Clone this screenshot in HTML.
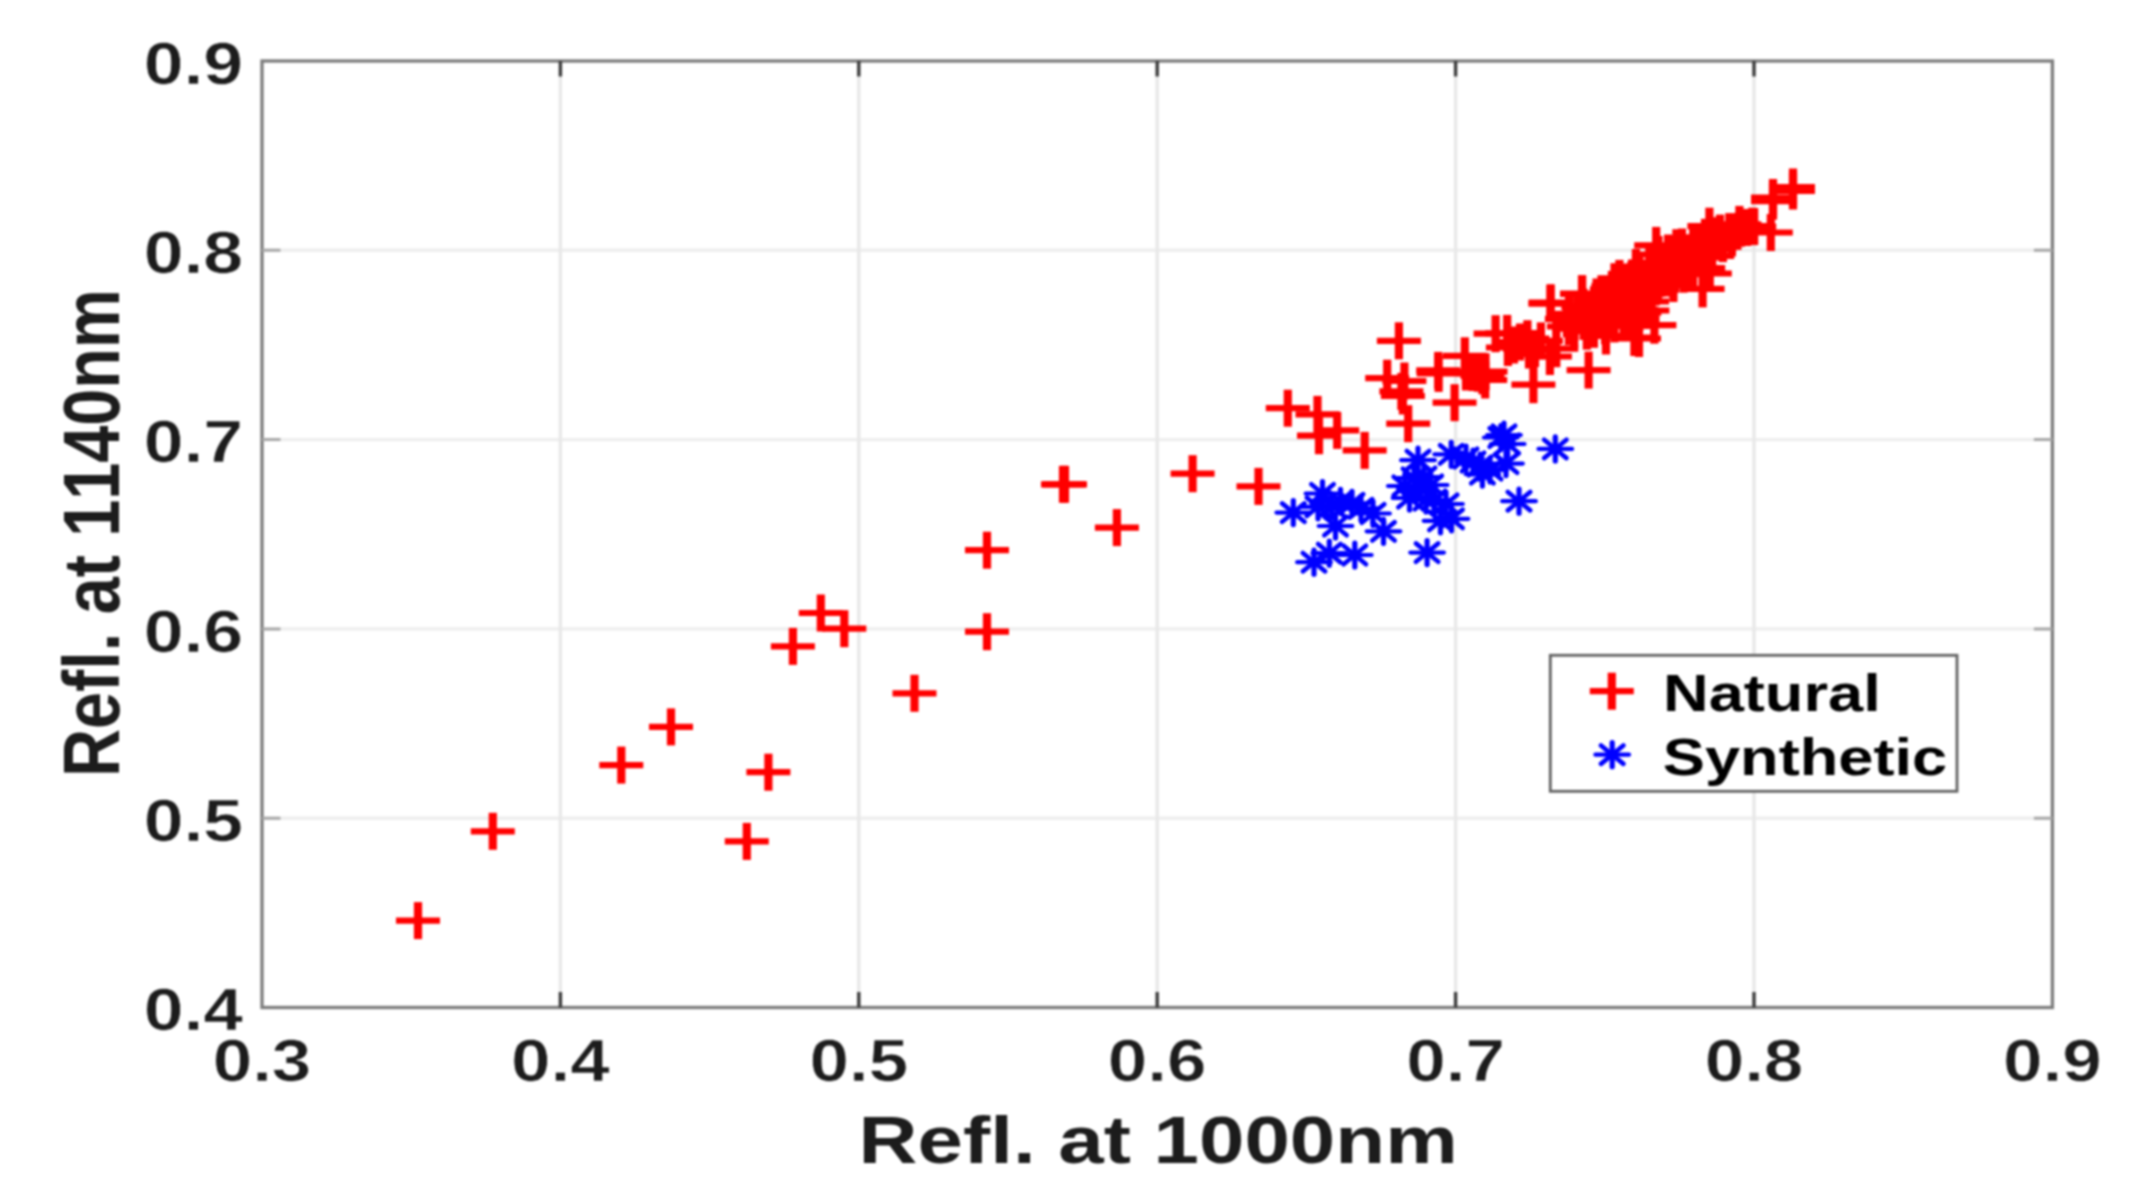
<!DOCTYPE html>
<html lang="en">
<head>
<meta charset="utf-8">
<title>Refl. at 1000nm vs Refl. at 1140nm</title>
<style>
html,body{margin:0;padding:0;background:#fff;}
body{width:2132px;height:1201px;overflow:hidden;}
svg{display:block;filter:blur(0.8px);}
text{font-family:"Liberation Sans",sans-serif;font-weight:bold;font-kerning:none;}
</style>
</head>
<body>
<svg width="2132" height="1201" viewBox="0 0 2132 1201">
<rect width="2132" height="1201" fill="#ffffff"/>

<g stroke="#eeeeee" stroke-width="3.4" fill="none">
<path d="M262.0 250.3H2052.4"/>
<path d="M262.0 439.6H2052.4"/>
<path d="M262.0 628.9H2052.4"/>
<path d="M262.0 818.2H2052.4"/>
</g>
<g stroke="#e8e8e8" stroke-width="3.4" fill="none">
<path d="M560.4 61.0V1007.5"/>
<path d="M858.8 61.0V1007.5"/>
<path d="M1157.2 61.0V1007.5"/>
<path d="M1455.6 61.0V1007.5"/>
<path d="M1754.0 61.0V1007.5"/>
</g>
<g stroke="#ff0000" fill="none">
<path d="M396.0 920.6h44" stroke-width="6.2"/><path d="M418.0 902.1v37" stroke-width="8.2"/>
<path d="M470.8 831.3h44" stroke-width="6.2"/><path d="M492.8 812.8v37" stroke-width="8.2"/>
<path d="M599.3 765.1h44" stroke-width="6.2"/><path d="M621.3 746.6v37" stroke-width="8.2"/>
<path d="M649.0 726.9h44" stroke-width="6.2"/><path d="M671.0 708.4v37" stroke-width="8.2"/>
<path d="M746.4 772.2h44" stroke-width="6.2"/><path d="M768.4 753.7v37" stroke-width="8.2"/>
<path d="M724.8 841.4h44" stroke-width="6.2"/><path d="M746.8 822.9v37" stroke-width="8.2"/>
<path d="M770.9 646.4h44" stroke-width="6.2"/><path d="M792.9 627.9v37" stroke-width="8.2"/>
<path d="M798.8 613.0h44" stroke-width="6.2"/><path d="M820.8 594.5v37" stroke-width="8.2"/>
<path d="M822.3 628.7h44" stroke-width="6.2"/><path d="M844.3 610.2v37" stroke-width="8.2"/>
<path d="M892.5 693.3h44" stroke-width="6.2"/><path d="M914.5 674.8v37" stroke-width="8.2"/>
<path d="M965.0 631.7h44" stroke-width="6.2"/><path d="M987.0 613.2v37" stroke-width="8.2"/>
<path d="M965.0 550.2h44" stroke-width="6.2"/><path d="M987.0 531.7v37" stroke-width="8.2"/>
<path d="M1041.0 484.3h44" stroke-width="6.2"/><path d="M1063.0 465.8v37" stroke-width="8.2"/>
<path d="M1043.0 484.3h44" stroke-width="6.2"/><path d="M1065.0 465.8v37" stroke-width="8.2"/>
<path d="M1094.9 527.6h44" stroke-width="6.2"/><path d="M1116.9 509.1v37" stroke-width="8.2"/>
<path d="M1170.6 473.7h44" stroke-width="6.2"/><path d="M1192.6 455.2v37" stroke-width="8.2"/>
<path d="M1236.5 486.4h44" stroke-width="6.2"/><path d="M1258.5 467.9v37" stroke-width="8.2"/>
<path d="M1265.8 408.2h44" stroke-width="6.2"/><path d="M1287.8 389.7v37" stroke-width="8.2"/>
<path d="M1295.5 414.4h44" stroke-width="6.2"/><path d="M1317.5 395.9v37" stroke-width="8.2"/>
<path d="M1315.2 430.4h44" stroke-width="6.2"/><path d="M1337.2 411.9v37" stroke-width="8.2"/>
<path d="M1297.0 435.7h44" stroke-width="6.2"/><path d="M1319.0 417.2v37" stroke-width="8.2"/>
<path d="M1342.7 450.4h44" stroke-width="6.2"/><path d="M1364.7 431.9v37" stroke-width="8.2"/>
<path d="M1376.9 340.8h44" stroke-width="6.2"/><path d="M1398.9 322.3v37" stroke-width="8.2"/>
<path d="M1386.2 423.7h44" stroke-width="6.2"/><path d="M1408.2 405.2v37" stroke-width="8.2"/>
<path d="M1432.6 402.7h44" stroke-width="6.2"/><path d="M1454.6 384.2v37" stroke-width="8.2"/>
<path d="M1365.2 378.2h44" stroke-width="6.2"/><path d="M1387.2 359.7v37" stroke-width="8.2"/>
<path d="M1382.4 381.0h44" stroke-width="6.2"/><path d="M1404.4 362.5v37" stroke-width="8.2"/>
<path d="M1379.4 391.4h44" stroke-width="6.2"/><path d="M1401.4 372.9v37" stroke-width="8.2"/>
<path d="M1380.9 396.0h44" stroke-width="6.2"/><path d="M1402.9 377.5v37" stroke-width="8.2"/>
<path d="M1511.4 384.7h44" stroke-width="6.2"/><path d="M1533.4 366.2v37" stroke-width="8.2"/>
<path d="M1566.6 370.1h44" stroke-width="6.2"/><path d="M1588.6 351.6v37" stroke-width="8.2"/>
<path d="M1528.6 302.7h44" stroke-width="6.2"/><path d="M1550.6 284.2v37" stroke-width="8.2"/>
<path d="M1560.1 294.0h44" stroke-width="6.2"/><path d="M1582.1 275.5v37" stroke-width="8.2"/>
<path d="M1442.8 355.8h44" stroke-width="6.2"/><path d="M1464.8 337.3v37" stroke-width="8.2"/>
<path d="M1416.2 370.4h44" stroke-width="6.2"/><path d="M1438.2 351.9v37" stroke-width="8.2"/>
<path d="M1416.6 373.4h44" stroke-width="6.2"/><path d="M1438.6 354.9v37" stroke-width="8.2"/>
<path d="M1444.0 372.0h44" stroke-width="6.2"/><path d="M1466.0 353.5v37" stroke-width="8.2"/>
<path d="M1450.7 372.5h44" stroke-width="6.2"/><path d="M1472.7 354.0v37" stroke-width="8.2"/>
<path d="M1463.5 371.7h44" stroke-width="6.2"/><path d="M1485.5 353.2v37" stroke-width="8.2"/>
<path d="M1463.2 380.0h44" stroke-width="6.2"/><path d="M1485.2 361.5v37" stroke-width="8.2"/>
<path d="M1460.5 375.8h44" stroke-width="6.2"/><path d="M1482.5 357.3v37" stroke-width="8.2"/>
<path d="M1456.0 373.2h44" stroke-width="6.2"/><path d="M1478.0 354.7v37" stroke-width="8.2"/>
<path d="M1473.6 333.7h44" stroke-width="6.2"/><path d="M1495.6 315.2v37" stroke-width="8.2"/>
<path d="M1485.2 333.4h44" stroke-width="6.2"/><path d="M1507.2 314.9v37" stroke-width="8.2"/>
<path d="M1505.4 338.7h44" stroke-width="6.2"/><path d="M1527.4 320.2v37" stroke-width="8.2"/>
<path d="M1518.9 340.9h44" stroke-width="6.2"/><path d="M1540.9 322.4v37" stroke-width="8.2"/>
<path d="M1485.9 347.5h44" stroke-width="6.2"/><path d="M1507.9 329.0v37" stroke-width="8.2"/>
<path d="M1527.9 356.5h44" stroke-width="6.2"/><path d="M1549.9 338.0v37" stroke-width="8.2"/>
<path d="M1534.3 348.7h44" stroke-width="6.2"/><path d="M1556.3 330.2v37" stroke-width="8.2"/>
<path d="M1498.0 342.0h44" stroke-width="6.2"/><path d="M1520.0 323.5v37" stroke-width="8.2"/>
<path d="M1513.0 348.5h44" stroke-width="6.2"/><path d="M1535.0 330.0v37" stroke-width="8.2"/>
<path d="M1507.0 350.0h44" stroke-width="6.2"/><path d="M1529.0 331.5v37" stroke-width="8.2"/>
<path d="M1492.0 345.0h44" stroke-width="6.2"/><path d="M1514.0 326.5v37" stroke-width="8.2"/>
<path d="M1528.5 303.7h44" stroke-width="6.2"/><path d="M1550.5 285.2v37" stroke-width="8.2"/>
<path d="M1560.0 293.7h44" stroke-width="6.2"/><path d="M1582.0 275.2v37" stroke-width="8.2"/>
<path d="M1592.5 281.7h44" stroke-width="6.2"/><path d="M1614.5 263.2v37" stroke-width="8.2"/>
<path d="M1597.4 278.4h44" stroke-width="6.2"/><path d="M1619.4 259.9v37" stroke-width="8.2"/>
<path d="M1634.2 245.4h44" stroke-width="6.2"/><path d="M1656.2 226.9v37" stroke-width="8.2"/>
<path d="M1613.9 267.5h44" stroke-width="6.2"/><path d="M1635.9 249.0v37" stroke-width="8.2"/>
<path d="M1654.4 247.7h44" stroke-width="6.2"/><path d="M1676.4 229.2v37" stroke-width="8.2"/>
<path d="M1687.4 226.2h44" stroke-width="6.2"/><path d="M1709.4 207.7v37" stroke-width="8.2"/>
<path d="M1717.4 224.4h44" stroke-width="6.2"/><path d="M1739.4 205.9v37" stroke-width="8.2"/>
<path d="M1748.8 232.5h44" stroke-width="6.2"/><path d="M1770.8 214.0v37" stroke-width="8.2"/>
<path d="M1680.6 288.9h44" stroke-width="6.2"/><path d="M1702.6 270.4v37" stroke-width="8.2"/>
<path d="M1687.8 273.5h44" stroke-width="6.2"/><path d="M1709.8 255.0v37" stroke-width="8.2"/>
<path d="M1651.4 283.5h44" stroke-width="6.2"/><path d="M1673.4 265.0v37" stroke-width="8.2"/>
<path d="M1632.4 325.2h44" stroke-width="6.2"/><path d="M1654.4 306.7v37" stroke-width="8.2"/>
<path d="M1612.4 337.5h44" stroke-width="6.2"/><path d="M1634.4 319.0v37" stroke-width="8.2"/>
<path d="M1617.0 338.5h44" stroke-width="6.2"/><path d="M1639.0 320.0v37" stroke-width="8.2"/>
<path d="M1584.0 336.0h44" stroke-width="6.2"/><path d="M1606.0 317.5v37" stroke-width="8.2"/>
<path d="M1547.0 314.0h44" stroke-width="6.2"/><path d="M1569.0 295.5v37" stroke-width="8.2"/>
<path d="M1771.0 187.0h44" stroke-width="6.2"/><path d="M1793.0 168.5v37" stroke-width="8.2"/>
<path d="M1771.0 191.0h44" stroke-width="6.2"/><path d="M1793.0 172.5v37" stroke-width="8.2"/>
<path d="M1751.0 197.5h44" stroke-width="6.2"/><path d="M1773.0 179.0v37" stroke-width="8.2"/>
<path d="M1751.0 201.2h44" stroke-width="6.2"/><path d="M1773.0 182.7v37" stroke-width="8.2"/>
<path d="M1730.4 226.2h44" stroke-width="6.2"/><path d="M1752.4 207.7v37" stroke-width="8.2"/>
<path d="M1707.3 231.6h44" stroke-width="6.2"/><path d="M1729.3 213.1v37" stroke-width="8.2"/>
<path d="M1544.9 318.8h44" stroke-width="6.2"/><path d="M1566.9 300.3v37" stroke-width="8.2"/>
<path d="M1546.9 326.5h44" stroke-width="6.2"/><path d="M1568.9 308.0v37" stroke-width="8.2"/>
<path d="M1555.2 313.9h44" stroke-width="6.2"/><path d="M1577.2 295.4v37" stroke-width="8.2"/>
<path d="M1552.3 321.7h44" stroke-width="6.2"/><path d="M1574.3 303.2v37" stroke-width="8.2"/>
<path d="M1552.2 328.7h44" stroke-width="6.2"/><path d="M1574.2 310.2v37" stroke-width="8.2"/>
<path d="M1561.4 307.1h44" stroke-width="6.2"/><path d="M1583.4 288.6v37" stroke-width="8.2"/>
<path d="M1563.5 316.9h44" stroke-width="6.2"/><path d="M1585.5 298.4v37" stroke-width="8.2"/>
<path d="M1561.7 321.4h44" stroke-width="6.2"/><path d="M1583.7 302.9v37" stroke-width="8.2"/>
<path d="M1564.8 331.2h44" stroke-width="6.2"/><path d="M1586.8 312.7v37" stroke-width="8.2"/>
<path d="M1573.5 301.5h44" stroke-width="6.2"/><path d="M1595.5 283.0v37" stroke-width="8.2"/>
<path d="M1575.9 306.7h44" stroke-width="6.2"/><path d="M1597.9 288.2v37" stroke-width="8.2"/>
<path d="M1575.2 314.2h44" stroke-width="6.2"/><path d="M1597.2 295.7v37" stroke-width="8.2"/>
<path d="M1570.9 320.0h44" stroke-width="6.2"/><path d="M1592.9 301.5v37" stroke-width="8.2"/>
<path d="M1571.9 329.3h44" stroke-width="6.2"/><path d="M1593.9 310.8v37" stroke-width="8.2"/>
<path d="M1580.1 296.2h44" stroke-width="6.2"/><path d="M1602.1 277.7v37" stroke-width="8.2"/>
<path d="M1582.8 302.9h44" stroke-width="6.2"/><path d="M1604.8 284.4v37" stroke-width="8.2"/>
<path d="M1582.3 309.2h44" stroke-width="6.2"/><path d="M1604.3 290.7v37" stroke-width="8.2"/>
<path d="M1579.4 317.3h44" stroke-width="6.2"/><path d="M1601.4 298.8v37" stroke-width="8.2"/>
<path d="M1583.1 325.8h44" stroke-width="6.2"/><path d="M1605.1 307.3v37" stroke-width="8.2"/>
<path d="M1589.9 289.4h44" stroke-width="6.2"/><path d="M1611.9 270.9v37" stroke-width="8.2"/>
<path d="M1590.7 295.4h44" stroke-width="6.2"/><path d="M1612.7 276.9v37" stroke-width="8.2"/>
<path d="M1592.8 304.1h44" stroke-width="6.2"/><path d="M1614.8 285.6v37" stroke-width="8.2"/>
<path d="M1589.5 310.8h44" stroke-width="6.2"/><path d="M1611.5 292.3v37" stroke-width="8.2"/>
<path d="M1591.2 319.1h44" stroke-width="6.2"/><path d="M1613.2 300.6v37" stroke-width="8.2"/>
<path d="M1592.4 323.9h44" stroke-width="6.2"/><path d="M1614.4 305.4v37" stroke-width="8.2"/>
<path d="M1602.9 282.0h44" stroke-width="6.2"/><path d="M1624.9 263.5v37" stroke-width="8.2"/>
<path d="M1599.5 292.5h44" stroke-width="6.2"/><path d="M1621.5 274.0v37" stroke-width="8.2"/>
<path d="M1597.9 299.4h44" stroke-width="6.2"/><path d="M1619.9 280.9v37" stroke-width="8.2"/>
<path d="M1597.2 308.1h44" stroke-width="6.2"/><path d="M1619.2 289.6v37" stroke-width="8.2"/>
<path d="M1601.6 315.6h44" stroke-width="6.2"/><path d="M1623.6 297.1v37" stroke-width="8.2"/>
<path d="M1602.3 322.6h44" stroke-width="6.2"/><path d="M1624.3 304.1v37" stroke-width="8.2"/>
<path d="M1610.2 277.9h44" stroke-width="6.2"/><path d="M1632.2 259.4v37" stroke-width="8.2"/>
<path d="M1609.5 284.9h44" stroke-width="6.2"/><path d="M1631.5 266.4v37" stroke-width="8.2"/>
<path d="M1611.0 294.3h44" stroke-width="6.2"/><path d="M1633.0 275.8v37" stroke-width="8.2"/>
<path d="M1608.8 300.7h44" stroke-width="6.2"/><path d="M1630.8 282.2v37" stroke-width="8.2"/>
<path d="M1606.4 308.4h44" stroke-width="6.2"/><path d="M1628.4 289.9v37" stroke-width="8.2"/>
<path d="M1609.9 317.1h44" stroke-width="6.2"/><path d="M1631.9 298.6v37" stroke-width="8.2"/>
<path d="M1610.9 321.8h44" stroke-width="6.2"/><path d="M1632.9 303.3v37" stroke-width="8.2"/>
<path d="M1617.3 272.6h44" stroke-width="6.2"/><path d="M1639.3 254.1v37" stroke-width="8.2"/>
<path d="M1615.1 279.6h44" stroke-width="6.2"/><path d="M1637.1 261.1v37" stroke-width="8.2"/>
<path d="M1616.0 286.1h44" stroke-width="6.2"/><path d="M1638.0 267.6v37" stroke-width="8.2"/>
<path d="M1615.4 296.5h44" stroke-width="6.2"/><path d="M1637.4 278.0v37" stroke-width="8.2"/>
<path d="M1615.8 302.3h44" stroke-width="6.2"/><path d="M1637.8 283.8v37" stroke-width="8.2"/>
<path d="M1617.3 312.6h44" stroke-width="6.2"/><path d="M1639.3 294.1v37" stroke-width="8.2"/>
<path d="M1615.5 318.8h44" stroke-width="6.2"/><path d="M1637.5 300.3v37" stroke-width="8.2"/>
<path d="M1627.3 264.5h44" stroke-width="6.2"/><path d="M1649.3 246.0v37" stroke-width="8.2"/>
<path d="M1628.9 272.3h44" stroke-width="6.2"/><path d="M1650.9 253.8v37" stroke-width="8.2"/>
<path d="M1625.7 278.5h44" stroke-width="6.2"/><path d="M1647.7 260.0v37" stroke-width="8.2"/>
<path d="M1626.2 288.3h44" stroke-width="6.2"/><path d="M1648.2 269.8v37" stroke-width="8.2"/>
<path d="M1629.7 293.3h44" stroke-width="6.2"/><path d="M1651.7 274.8v37" stroke-width="8.2"/>
<path d="M1625.1 301.5h44" stroke-width="6.2"/><path d="M1647.1 283.0v37" stroke-width="8.2"/>
<path d="M1625.4 310.5h44" stroke-width="6.2"/><path d="M1647.4 292.0v37" stroke-width="8.2"/>
<path d="M1636.5 254.5h44" stroke-width="6.2"/><path d="M1658.5 236.0v37" stroke-width="8.2"/>
<path d="M1633.0 262.5h44" stroke-width="6.2"/><path d="M1655.0 244.0v37" stroke-width="8.2"/>
<path d="M1635.2 270.4h44" stroke-width="6.2"/><path d="M1657.2 251.9v37" stroke-width="8.2"/>
<path d="M1638.7 278.3h44" stroke-width="6.2"/><path d="M1660.7 259.8v37" stroke-width="8.2"/>
<path d="M1636.1 285.3h44" stroke-width="6.2"/><path d="M1658.1 266.8v37" stroke-width="8.2"/>
<path d="M1646.1 253.0h44" stroke-width="6.2"/><path d="M1668.1 234.5v37" stroke-width="8.2"/>
<path d="M1647.4 263.6h44" stroke-width="6.2"/><path d="M1669.4 245.1v37" stroke-width="8.2"/>
<path d="M1647.2 271.4h44" stroke-width="6.2"/><path d="M1669.2 252.9v37" stroke-width="8.2"/>
<path d="M1644.4 277.5h44" stroke-width="6.2"/><path d="M1666.4 259.0v37" stroke-width="8.2"/>
<path d="M1651.6 254.2h44" stroke-width="6.2"/><path d="M1673.6 235.7v37" stroke-width="8.2"/>
<path d="M1651.4 259.4h44" stroke-width="6.2"/><path d="M1673.4 240.9v37" stroke-width="8.2"/>
<path d="M1652.3 267.2h44" stroke-width="6.2"/><path d="M1674.3 248.7v37" stroke-width="8.2"/>
<path d="M1653.0 274.2h44" stroke-width="6.2"/><path d="M1675.0 255.7v37" stroke-width="8.2"/>
<path d="M1660.0 247.0h44" stroke-width="6.2"/><path d="M1682.0 228.5v37" stroke-width="8.2"/>
<path d="M1660.6 254.5h44" stroke-width="6.2"/><path d="M1682.6 236.0v37" stroke-width="8.2"/>
<path d="M1660.2 263.1h44" stroke-width="6.2"/><path d="M1682.2 244.6v37" stroke-width="8.2"/>
<path d="M1663.7 266.8h44" stroke-width="6.2"/><path d="M1685.7 248.3v37" stroke-width="8.2"/>
<path d="M1661.5 274.2h44" stroke-width="6.2"/><path d="M1683.5 255.7v37" stroke-width="8.2"/>
<path d="M1671.2 242.3h44" stroke-width="6.2"/><path d="M1693.2 223.8v37" stroke-width="8.2"/>
<path d="M1674.1 253.1h44" stroke-width="6.2"/><path d="M1696.1 234.6v37" stroke-width="8.2"/>
<path d="M1671.8 258.4h44" stroke-width="6.2"/><path d="M1693.8 239.9v37" stroke-width="8.2"/>
<path d="M1669.5 264.1h44" stroke-width="6.2"/><path d="M1691.5 245.6v37" stroke-width="8.2"/>
<path d="M1671.1 272.1h44" stroke-width="6.2"/><path d="M1693.1 253.6v37" stroke-width="8.2"/>
<path d="M1683.0 237.3h44" stroke-width="6.2"/><path d="M1705.0 218.8v37" stroke-width="8.2"/>
<path d="M1678.1 247.4h44" stroke-width="6.2"/><path d="M1700.1 228.9v37" stroke-width="8.2"/>
<path d="M1681.2 251.0h44" stroke-width="6.2"/><path d="M1703.2 232.5v37" stroke-width="8.2"/>
<path d="M1681.3 257.4h44" stroke-width="6.2"/><path d="M1703.3 238.9v37" stroke-width="8.2"/>
<path d="M1681.2 268.1h44" stroke-width="6.2"/><path d="M1703.2 249.6v37" stroke-width="8.2"/>
<path d="M1692.2 235.7h44" stroke-width="6.2"/><path d="M1714.2 217.2v37" stroke-width="8.2"/>
<path d="M1688.6 241.0h44" stroke-width="6.2"/><path d="M1710.6 222.5v37" stroke-width="8.2"/>
<path d="M1688.0 249.2h44" stroke-width="6.2"/><path d="M1710.0 230.7v37" stroke-width="8.2"/>
<path d="M1690.2 255.8h44" stroke-width="6.2"/><path d="M1712.2 237.3v37" stroke-width="8.2"/>
<path d="M1698.0 233.1h44" stroke-width="6.2"/><path d="M1720.0 214.6v37" stroke-width="8.2"/>
<path d="M1700.9 243.6h44" stroke-width="6.2"/><path d="M1722.9 225.1v37" stroke-width="8.2"/>
<path d="M1710.1 233.1h44" stroke-width="6.2"/><path d="M1732.1 214.6v37" stroke-width="8.2"/>
<path d="M1709.9 237.9h44" stroke-width="6.2"/><path d="M1731.9 219.4v37" stroke-width="8.2"/>
<path d="M1715.4 231.4h44" stroke-width="6.2"/><path d="M1737.4 212.9v37" stroke-width="8.2"/>
<path d="M1725.1 227.5h44" stroke-width="6.2"/><path d="M1747.1 209.0v37" stroke-width="8.2"/>
<path d="M1732.2 226.6h44" stroke-width="6.2"/><path d="M1754.2 208.1v37" stroke-width="8.2"/>
</g>
<g stroke="#0000ff" fill="none" stroke-linecap="round">
<path d="M1276.5 512.6h33.6" stroke-width="4.2"/><path d="M1293.3 500.6v24.0" stroke-width="5.2"/><path d="M1282.1 503.4l22.4 18.4M1282.1 521.8l22.4 -18.4" stroke-width="4.6"/><ellipse cx="1293.3" cy="512.6" rx="5.4" ry="4.2" fill="#0000ff" stroke="none"/>
<path d="M1305.7 493.5h33.6" stroke-width="4.2"/><path d="M1322.5 481.5v24.0" stroke-width="5.2"/><path d="M1311.3 484.3l22.4 18.4M1311.3 502.7l22.4 -18.4" stroke-width="4.6"/><ellipse cx="1322.5" cy="493.5" rx="5.4" ry="4.2" fill="#0000ff" stroke="none"/>
<path d="M1301.2 506.8h33.6" stroke-width="4.2"/><path d="M1318.0 494.8v24.0" stroke-width="5.2"/><path d="M1306.8 497.6l22.4 18.4M1306.8 516.0l22.4 -18.4" stroke-width="4.6"/><ellipse cx="1318.0" cy="506.8" rx="5.4" ry="4.2" fill="#0000ff" stroke="none"/>
<path d="M1315.2 506.0h33.6" stroke-width="4.2"/><path d="M1332.0 494.0v24.0" stroke-width="5.2"/><path d="M1320.8 496.8l22.4 18.4M1320.8 515.2l22.4 -18.4" stroke-width="4.6"/><ellipse cx="1332.0" cy="506.0" rx="5.4" ry="4.2" fill="#0000ff" stroke="none"/>
<path d="M1323.7 501.3h33.6" stroke-width="4.2"/><path d="M1340.5 489.3v24.0" stroke-width="5.2"/><path d="M1329.3 492.1l22.4 18.4M1329.3 510.5l22.4 -18.4" stroke-width="4.6"/><ellipse cx="1340.5" cy="501.3" rx="5.4" ry="4.2" fill="#0000ff" stroke="none"/>
<path d="M1335.2 503.3h33.6" stroke-width="4.2"/><path d="M1352.0 491.3v24.0" stroke-width="5.2"/><path d="M1340.8 494.1l22.4 18.4M1340.8 512.5l22.4 -18.4" stroke-width="4.6"/><ellipse cx="1352.0" cy="503.3" rx="5.4" ry="4.2" fill="#0000ff" stroke="none"/>
<path d="M1344.2 508.3h33.6" stroke-width="4.2"/><path d="M1361.0 496.3v24.0" stroke-width="5.2"/><path d="M1349.8 499.1l22.4 18.4M1349.8 517.5l22.4 -18.4" stroke-width="4.6"/><ellipse cx="1361.0" cy="508.3" rx="5.4" ry="4.2" fill="#0000ff" stroke="none"/>
<path d="M1356.2 513.5h33.6" stroke-width="4.2"/><path d="M1373.0 501.5v24.0" stroke-width="5.2"/><path d="M1361.8 504.3l22.4 18.4M1361.8 522.7l22.4 -18.4" stroke-width="4.6"/><ellipse cx="1373.0" cy="513.5" rx="5.4" ry="4.2" fill="#0000ff" stroke="none"/>
<path d="M1318.7 526.0h33.6" stroke-width="4.2"/><path d="M1335.5 514.0v24.0" stroke-width="5.2"/><path d="M1324.3 516.8l22.4 18.4M1324.3 535.2l22.4 -18.4" stroke-width="4.6"/><ellipse cx="1335.5" cy="526.0" rx="5.4" ry="4.2" fill="#0000ff" stroke="none"/>
<path d="M1366.7 531.3h33.6" stroke-width="4.2"/><path d="M1383.5 519.3v24.0" stroke-width="5.2"/><path d="M1372.3 522.1l22.4 18.4M1372.3 540.5l22.4 -18.4" stroke-width="4.6"/><ellipse cx="1383.5" cy="531.3" rx="5.4" ry="4.2" fill="#0000ff" stroke="none"/>
<path d="M1338.0 555.0h33.6" stroke-width="4.2"/><path d="M1354.8 543.0v24.0" stroke-width="5.2"/><path d="M1343.6 545.8l22.4 18.4M1343.6 564.2l22.4 -18.4" stroke-width="4.6"/><ellipse cx="1354.8" cy="555.0" rx="5.4" ry="4.2" fill="#0000ff" stroke="none"/>
<path d="M1297.2 562.2h33.6" stroke-width="4.2"/><path d="M1314.0 550.2v24.0" stroke-width="5.2"/><path d="M1302.8 553.0l22.4 18.4M1302.8 571.4l22.4 -18.4" stroke-width="4.6"/><ellipse cx="1314.0" cy="562.2" rx="5.4" ry="4.2" fill="#0000ff" stroke="none"/>
<path d="M1312.5 553.2h33.6" stroke-width="4.2"/><path d="M1329.3 541.2v24.0" stroke-width="5.2"/><path d="M1318.1 544.0l22.4 18.4M1318.1 562.4l22.4 -18.4" stroke-width="4.6"/><ellipse cx="1329.3" cy="553.2" rx="5.4" ry="4.2" fill="#0000ff" stroke="none"/>
<path d="M1401.2 460.2h33.6" stroke-width="4.2"/><path d="M1418.0 448.2v24.0" stroke-width="5.2"/><path d="M1406.8 451.0l22.4 18.4M1406.8 469.4l22.4 -18.4" stroke-width="4.6"/><ellipse cx="1418.0" cy="460.2" rx="5.4" ry="4.2" fill="#0000ff" stroke="none"/>
<path d="M1388.0 486.0h33.6" stroke-width="4.2"/><path d="M1404.8 474.0v24.0" stroke-width="5.2"/><path d="M1393.6 476.8l22.4 18.4M1393.6 495.2l22.4 -18.4" stroke-width="4.6"/><ellipse cx="1404.8" cy="486.0" rx="5.4" ry="4.2" fill="#0000ff" stroke="none"/>
<path d="M1392.7 498.0h33.6" stroke-width="4.2"/><path d="M1409.5 486.0v24.0" stroke-width="5.2"/><path d="M1398.3 488.8l22.4 18.4M1398.3 507.2l22.4 -18.4" stroke-width="4.6"/><ellipse cx="1409.5" cy="498.0" rx="5.4" ry="4.2" fill="#0000ff" stroke="none"/>
<path d="M1413.9 485.0h33.6" stroke-width="4.2"/><path d="M1430.7 473.0v24.0" stroke-width="5.2"/><path d="M1419.5 475.8l22.4 18.4M1419.5 494.2l22.4 -18.4" stroke-width="4.6"/><ellipse cx="1430.7" cy="485.0" rx="5.4" ry="4.2" fill="#0000ff" stroke="none"/>
<path d="M1397.2 478.0h33.6" stroke-width="4.2"/><path d="M1414.0 466.0v24.0" stroke-width="5.2"/><path d="M1402.8 468.8l22.4 18.4M1402.8 487.2l22.4 -18.4" stroke-width="4.6"/><ellipse cx="1414.0" cy="478.0" rx="5.4" ry="4.2" fill="#0000ff" stroke="none"/>
<path d="M1407.2 477.0h33.6" stroke-width="4.2"/><path d="M1424.0 465.0v24.0" stroke-width="5.2"/><path d="M1412.8 467.8l22.4 18.4M1412.8 486.2l22.4 -18.4" stroke-width="4.6"/><ellipse cx="1424.0" cy="477.0" rx="5.4" ry="4.2" fill="#0000ff" stroke="none"/>
<path d="M1403.2 486.0h33.6" stroke-width="4.2"/><path d="M1420.0 474.0v24.0" stroke-width="5.2"/><path d="M1408.8 476.8l22.4 18.4M1408.8 495.2l22.4 -18.4" stroke-width="4.6"/><ellipse cx="1420.0" cy="486.0" rx="5.4" ry="4.2" fill="#0000ff" stroke="none"/>
<path d="M1417.2 500.0h33.6" stroke-width="4.2"/><path d="M1434.0 488.0v24.0" stroke-width="5.2"/><path d="M1422.8 490.8l22.4 18.4M1422.8 509.2l22.4 -18.4" stroke-width="4.6"/><ellipse cx="1434.0" cy="500.0" rx="5.4" ry="4.2" fill="#0000ff" stroke="none"/>
<path d="M1409.2 500.0h33.6" stroke-width="4.2"/><path d="M1426.0 488.0v24.0" stroke-width="5.2"/><path d="M1414.8 490.8l22.4 18.4M1414.8 509.2l22.4 -18.4" stroke-width="4.6"/><ellipse cx="1426.0" cy="500.0" rx="5.4" ry="4.2" fill="#0000ff" stroke="none"/>
<path d="M1423.7 520.8h33.6" stroke-width="4.2"/><path d="M1440.5 508.8v24.0" stroke-width="5.2"/><path d="M1429.3 511.6l22.4 18.4M1429.3 530.0l22.4 -18.4" stroke-width="4.6"/><ellipse cx="1440.5" cy="520.8" rx="5.4" ry="4.2" fill="#0000ff" stroke="none"/>
<path d="M1434.7 518.8h33.6" stroke-width="4.2"/><path d="M1451.5 506.8v24.0" stroke-width="5.2"/><path d="M1440.3 509.6l22.4 18.4M1440.3 528.0l22.4 -18.4" stroke-width="4.6"/><ellipse cx="1451.5" cy="518.8" rx="5.4" ry="4.2" fill="#0000ff" stroke="none"/>
<path d="M1429.2 504.0h33.6" stroke-width="4.2"/><path d="M1446.0 492.0v24.0" stroke-width="5.2"/><path d="M1434.8 494.8l22.4 18.4M1434.8 513.2l22.4 -18.4" stroke-width="4.6"/><ellipse cx="1446.0" cy="504.0" rx="5.4" ry="4.2" fill="#0000ff" stroke="none"/>
<path d="M1410.3 552.6h33.6" stroke-width="4.2"/><path d="M1427.1 540.6v24.0" stroke-width="5.2"/><path d="M1415.9 543.4l22.4 18.4M1415.9 561.8l22.4 -18.4" stroke-width="4.6"/><ellipse cx="1427.1" cy="552.6" rx="5.4" ry="4.2" fill="#0000ff" stroke="none"/>
<path d="M1434.4 454.3h33.6" stroke-width="4.2"/><path d="M1451.2 442.3v24.0" stroke-width="5.2"/><path d="M1440.0 445.1l22.4 18.4M1440.0 463.5l22.4 -18.4" stroke-width="4.6"/><ellipse cx="1451.2" cy="454.3" rx="5.4" ry="4.2" fill="#0000ff" stroke="none"/>
<path d="M1487.2 435.0h33.6" stroke-width="4.2"/><path d="M1504.0 423.0v24.0" stroke-width="5.2"/><path d="M1492.8 425.8l22.4 18.4M1492.8 444.2l22.4 -18.4" stroke-width="4.6"/><ellipse cx="1504.0" cy="435.0" rx="5.4" ry="4.2" fill="#0000ff" stroke="none"/>
<path d="M1484.0 437.5h33.6" stroke-width="4.2"/><path d="M1500.8 425.5v24.0" stroke-width="5.2"/><path d="M1489.6 428.3l22.4 18.4M1489.6 446.7l22.4 -18.4" stroke-width="4.6"/><ellipse cx="1500.8" cy="437.5" rx="5.4" ry="4.2" fill="#0000ff" stroke="none"/>
<path d="M1490.9 444.0h33.6" stroke-width="4.2"/><path d="M1507.7 432.0v24.0" stroke-width="5.2"/><path d="M1496.5 434.8l22.4 18.4M1496.5 453.2l22.4 -18.4" stroke-width="4.6"/><ellipse cx="1507.7" cy="444.0" rx="5.4" ry="4.2" fill="#0000ff" stroke="none"/>
<path d="M1489.2 463.6h33.6" stroke-width="4.2"/><path d="M1506.0 451.6v24.0" stroke-width="5.2"/><path d="M1494.8 454.4l22.4 18.4M1494.8 472.8l22.4 -18.4" stroke-width="4.6"/><ellipse cx="1506.0" cy="463.6" rx="5.4" ry="4.2" fill="#0000ff" stroke="none"/>
<path d="M1465.6 474.1h33.6" stroke-width="4.2"/><path d="M1482.4 462.1v24.0" stroke-width="5.2"/><path d="M1471.2 464.9l22.4 18.4M1471.2 483.3l22.4 -18.4" stroke-width="4.6"/><ellipse cx="1482.4" cy="474.1" rx="5.4" ry="4.2" fill="#0000ff" stroke="none"/>
<path d="M1456.2 462.0h33.6" stroke-width="4.2"/><path d="M1473.0 450.0v24.0" stroke-width="5.2"/><path d="M1461.8 452.8l22.4 18.4M1461.8 471.2l22.4 -18.4" stroke-width="4.6"/><ellipse cx="1473.0" cy="462.0" rx="5.4" ry="4.2" fill="#0000ff" stroke="none"/>
<path d="M1463.2 466.0h33.6" stroke-width="4.2"/><path d="M1480.0 454.0v24.0" stroke-width="5.2"/><path d="M1468.8 456.8l22.4 18.4M1468.8 475.2l22.4 -18.4" stroke-width="4.6"/><ellipse cx="1480.0" cy="466.0" rx="5.4" ry="4.2" fill="#0000ff" stroke="none"/>
<path d="M1473.2 470.0h33.6" stroke-width="4.2"/><path d="M1490.0 458.0v24.0" stroke-width="5.2"/><path d="M1478.8 460.8l22.4 18.4M1478.8 479.2l22.4 -18.4" stroke-width="4.6"/><ellipse cx="1490.0" cy="470.0" rx="5.4" ry="4.2" fill="#0000ff" stroke="none"/>
<path d="M1449.2 458.0h33.6" stroke-width="4.2"/><path d="M1466.0 446.0v24.0" stroke-width="5.2"/><path d="M1454.8 448.8l22.4 18.4M1454.8 467.2l22.4 -18.4" stroke-width="4.6"/><ellipse cx="1466.0" cy="458.0" rx="5.4" ry="4.2" fill="#0000ff" stroke="none"/>
<path d="M1502.2 501.2h33.6" stroke-width="4.2"/><path d="M1519.0 489.2v24.0" stroke-width="5.2"/><path d="M1507.8 492.0l22.4 18.4M1507.8 510.4l22.4 -18.4" stroke-width="4.6"/><ellipse cx="1519.0" cy="501.2" rx="5.4" ry="4.2" fill="#0000ff" stroke="none"/>
<path d="M1538.5 448.9h33.6" stroke-width="4.2"/><path d="M1555.3 436.9v24.0" stroke-width="5.2"/><path d="M1544.1 439.7l22.4 18.4M1544.1 458.1l22.4 -18.4" stroke-width="4.6"/><ellipse cx="1555.3" cy="448.9" rx="5.4" ry="4.2" fill="#0000ff" stroke="none"/>
</g>
<rect x="262.0" y="61.0" width="1790.4" height="946.5" fill="none" stroke="#7c7c7c" stroke-width="3.3"/>
<g stroke="#3c3c3c" stroke-width="3.4" fill="none">
<path d="M560.4 1007.5v-15.5M560.4 61.0v15.5"/>
<path d="M858.8 1007.5v-15.5M858.8 61.0v15.5"/>
<path d="M1157.2 1007.5v-15.5M1157.2 61.0v15.5"/>
<path d="M1455.6 1007.5v-15.5M1455.6 61.0v15.5"/>
<path d="M1754.0 1007.5v-15.5M1754.0 61.0v15.5"/>
</g>
<g stroke="#a8a8a8" stroke-width="3" fill="none">
<path d="M262.0 250.3h18.5M2052.4 250.3h-18.5"/>
<path d="M262.0 439.6h18.5M2052.4 439.6h-18.5"/>
<path d="M262.0 628.9h18.5M2052.4 628.9h-18.5"/>
<path d="M262.0 818.2h18.5M2052.4 818.2h-18.5"/>
</g>
<text transform="translate(262.0 1080.5) scale(1.21 1)" font-size="58.7" text-anchor="middle" fill="#1c1c1c" stroke="#ffffff" stroke-width="0.7" stroke-linejoin="round">0.3</text>
<text transform="translate(560.4 1080.5) scale(1.21 1)" font-size="58.7" text-anchor="middle" fill="#1c1c1c" stroke="#ffffff" stroke-width="0.7" stroke-linejoin="round">0.4</text>
<text transform="translate(858.8 1080.5) scale(1.21 1)" font-size="58.7" text-anchor="middle" fill="#1c1c1c" stroke="#ffffff" stroke-width="0.7" stroke-linejoin="round">0.5</text>
<text transform="translate(1157.2 1080.5) scale(1.21 1)" font-size="58.7" text-anchor="middle" fill="#1c1c1c" stroke="#ffffff" stroke-width="0.7" stroke-linejoin="round">0.6</text>
<text transform="translate(1455.6 1080.5) scale(1.21 1)" font-size="58.7" text-anchor="middle" fill="#1c1c1c" stroke="#ffffff" stroke-width="0.7" stroke-linejoin="round">0.7</text>
<text transform="translate(1754.0 1080.5) scale(1.21 1)" font-size="58.7" text-anchor="middle" fill="#1c1c1c" stroke="#ffffff" stroke-width="0.7" stroke-linejoin="round">0.8</text>
<text transform="translate(2052.4 1080.5) scale(1.21 1)" font-size="58.7" text-anchor="middle" fill="#1c1c1c" stroke="#ffffff" stroke-width="0.7" stroke-linejoin="round">0.9</text>
<text transform="translate(243.2 84.3) scale(1.22 1)" font-size="58.7" text-anchor="end" fill="#1c1c1c" stroke="#ffffff" stroke-width="0.7" stroke-linejoin="round">0.9</text>
<text transform="translate(243.2 273.4) scale(1.22 1)" font-size="58.7" text-anchor="end" fill="#1c1c1c" stroke="#ffffff" stroke-width="0.7" stroke-linejoin="round">0.8</text>
<text transform="translate(243.2 462.4) scale(1.22 1)" font-size="58.7" text-anchor="end" fill="#1c1c1c" stroke="#ffffff" stroke-width="0.7" stroke-linejoin="round">0.7</text>
<text transform="translate(243.2 651.5) scale(1.22 1)" font-size="58.7" text-anchor="end" fill="#1c1c1c" stroke="#ffffff" stroke-width="0.7" stroke-linejoin="round">0.6</text>
<text transform="translate(243.2 840.5) scale(1.22 1)" font-size="58.7" text-anchor="end" fill="#1c1c1c" stroke="#ffffff" stroke-width="0.7" stroke-linejoin="round">0.5</text>
<text transform="translate(243.2 1029.5) scale(1.22 1)" font-size="58.7" text-anchor="end" fill="#1c1c1c" stroke="#ffffff" stroke-width="0.7" stroke-linejoin="round">0.4</text>
<text transform="translate(1158.2 1163.0) scale(1.212 1)" font-size="67.4" text-anchor="middle" fill="#1c1c1c">Refl. at 1000nm</text>
<text transform="translate(118.7 533.0) scale(1.212 1) rotate(-90)" font-size="66.5" text-anchor="middle" fill="#1c1c1c">Refl. at 1140nm</text>
<rect x="1550.3" y="655.3" width="406.7" height="136" fill="#ffffff" stroke="#626262" stroke-width="2.8"/>
<g stroke="#ff0000" fill="none"><path d="M1589.8 691.2h44" stroke-width="6.2"/><path d="M1611.8 672.7v37" stroke-width="8.2"/></g>
<g stroke="#0000ff" fill="none" stroke-linecap="round"><path d="M1595.4 754.7h33.6" stroke-width="4.2"/><path d="M1612.2 742.7v24.0" stroke-width="5.2"/><path d="M1601.0 745.5l22.4 18.4M1601.0 763.9l22.4 -18.4" stroke-width="4.6"/><ellipse cx="1612.2" cy="754.7" rx="5.4" ry="4.2" fill="#0000ff" stroke="none"/></g>
<text transform="translate(1663.0 710.5) scale(1.225 1)" font-size="51.6" text-anchor="start" fill="#000000">Natural</text>
<text transform="translate(1662.8 775.2) scale(1.225 1)" font-size="51.6" text-anchor="start" fill="#000000">Synthetic</text>
</svg>
</body>
</html>
